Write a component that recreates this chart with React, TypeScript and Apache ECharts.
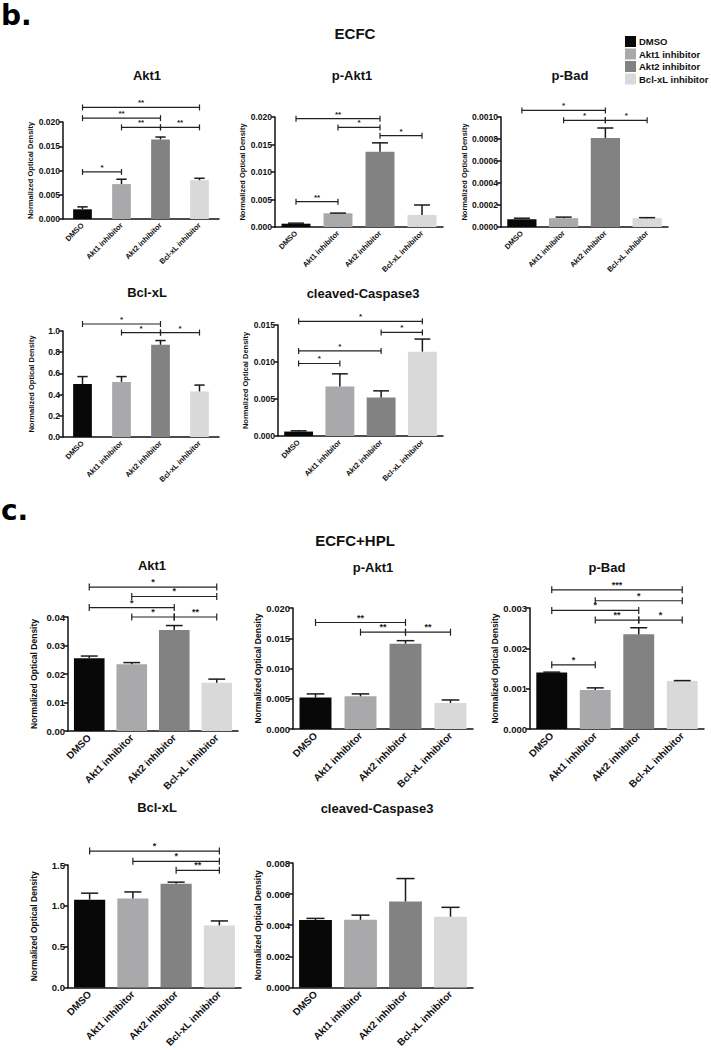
import React, { useEffect, useRef } from 'react';
import * as echarts from 'echarts';

const FONT = '"Liberation Sans", Arial, sans-serif';
const CATS = ['DMSO', 'Akt1 inhibitor', 'Akt2 inhibitor', 'Bcl-xL inhibitor'];
const COLORS = ['#080808', '#a9a9ab', '#828282', '#d9d9d9'];
const Y_NAME = 'Normalized Optical Density';

// ---- Section b: ECFC ----
const bAkt1Mean = [0.002, 0.0072, 0.0164, 0.008];
const bAkt1Err = [0.0005, 0.001, 0.0005, 0.0004];
const bAkt1Sig: [number, number, number, string][] = [[0, 3, 0.023, '**'], [0, 2, 0.0208, '**'], [1, 2, 0.0189, '**'], [2, 3, 0.0189, '**'], [0, 1, 0.0097, '*']];

const bPAkt1Mean = [0.0006, 0.0025, 0.0137, 0.0022];
const bPAkt1Err = [0.0001, 0.00003, 0.0016, 0.0018];
const bPAkt1Sig: [number, number, number, string][] = [[0, 2, 0.0197, '**'], [1, 2, 0.0181, '*'], [2, 3, 0.0166, '*'], [0, 1, 0.0046, '**']];

const bPBadMean = [0.00007, 0.00008, 0.00081, 0.00008];
const bPBadErr = [0.00001, 0.00001, 0.00009, 0.000005];
const bPBadSig: [number, number, number, string][] = [[0, 2, 0.00106, '*'], [1, 2, 0.00097, '*'], [2, 3, 0.00097, '*']];

const bBclMean = [0.5, 0.52, 0.87, 0.43];
const bBclErr = [0.07, 0.05, 0.04, 0.06];
const bBclSig: [number, number, number, string][] = [[0, 2, 1.066, '*'], [1, 2, 0.985, '*'], [2, 3, 0.985, '*']];

const bCasMean = [0.0006, 0.0067, 0.0052, 0.0114];
const bCasErr = [0.0001, 0.0017, 0.0009, 0.0017];
const bCasSig: [number, number, number, string][] = [[0, 3, 0.0155, '*'], [2, 3, 0.014, '*'], [0, 2, 0.0115, '*'], [0, 1, 0.0098, '*']];

// ---- Section c: ECFC+HPL ----
const cAkt1Mean = [0.0255, 0.0234, 0.0354, 0.0169];
const cAkt1Err = [0.0008, 0.0006, 0.0016, 0.0013];
const cAkt1Sig: [number, number, number, string][] = [[0, 3, 0.0505, '*'], [1, 3, 0.0472, '*'], [0, 2, 0.0433, '*'], [1, 2, 0.04, '*'], [2, 3, 0.04, '**']];

const cPAkt1Mean = [0.0052, 0.0054, 0.0141, 0.0043];
const cPAkt1Err = [0.0006, 0.0004, 0.0005, 0.0005];
const cPAkt1Sig: [number, number, number, string][] = [[0, 2, 0.0176, '**'], [1, 2, 0.016, '**'], [2, 3, 0.016, '**']];

const cPBadMean = [0.0014, 0.00097, 0.00235, 0.00119];
const cPBadErr = [0.00001, 0.00005, 0.00016, 0.00001];
const cPBadSig: [number, number, number, string][] = [[0, 3, 0.00345, '***'], [1, 3, 0.00318, '*'], [0, 2, 0.00294, '*'], [1, 2, 0.0027, '**'], [2, 3, 0.0027, '*'], [0, 1, 0.00159, '*']];

const cBclMean = [1.075, 1.09, 1.27, 0.76];
const cBclErr = [0.08, 0.08, 0.02, 0.055];
const cBclSig: [number, number, number, string][] = [[0, 3, 1.67, '*'], [1, 3, 1.545, '*'], [2, 3, 1.435, '**']];

const cCasMean = [0.00433, 0.00435, 0.00553, 0.00455];
const cCasErr = [0.00011, 0.0003, 0.00147, 0.0006];
const cCasSig: [number, number, number, string][] = [];

type Panel = {
  title: string; tx: number; ty: number;
  left: number; top: number; width: number; height: number;
  max: number; interval: number; dec: number;
  mean: number[]; err: number[]; sig: [number, number, number, string][];
  barW: string; big: boolean;
};

const panels: Panel[] = [
  { title: 'Akt1', tx: 147, ty: 75, left: 63, top: 122, width: 156, height: 97, max: 0.02, interval: 0.005, dec: 3, mean: bAkt1Mean, err: bAkt1Err, sig: bAkt1Sig, barW: '48%', big: false },
  { title: 'p-Akt1', tx: 352, ty: 75, left: 275, top: 117, width: 168, height: 110, max: 0.02, interval: 0.005, dec: 3, mean: bPAkt1Mean, err: bPAkt1Err, sig: bPAkt1Sig, barW: '69%', big: false },
  { title: 'p-Bad', tx: 570, ty: 75, left: 501, top: 117, width: 167, height: 110, max: 0.001, interval: 0.0002, dec: 4, mean: bPBadMean, err: bPBadErr, sig: bPBadSig, barW: '70%', big: false },
  { title: 'Bcl-xL', tx: 147, ty: 292, left: 63, top: 331, width: 156, height: 106, max: 1.0, interval: 0.2, dec: 1, mean: bBclMean, err: bBclErr, sig: bBclSig, barW: '48%', big: false },
  { title: 'cleaved-Caspase3', tx: 363, ty: 293, left: 278, top: 325, width: 165, height: 111, max: 0.015, interval: 0.005, dec: 3, mean: bCasMean, err: bCasErr, sig: bCasSig, barW: '70%', big: false },
  { title: 'Akt1', tx: 152, ty: 565, left: 68, top: 617, width: 170, height: 114, max: 0.04, interval: 0.01, dec: 2, mean: cAkt1Mean, err: cAkt1Err, sig: cAkt1Sig, barW: '72%', big: true },
  { title: 'p-Akt1', tx: 373, ty: 567, left: 293, top: 608, width: 180, height: 121, max: 0.02, interval: 0.005, dec: 3, mean: cPAkt1Mean, err: cPAkt1Err, sig: cPAkt1Sig, barW: '71%', big: true },
  { title: 'p-Bad', tx: 607, ty: 567, left: 530, top: 608, width: 174, height: 121, max: 0.003, interval: 0.001, dec: 3, mean: cPBadMean, err: cPBadErr, sig: cPBadSig, barW: '71%', big: true },
  { title: 'Bcl-xL', tx: 157, ty: 807, left: 68, top: 865, width: 173, height: 124, max: 1.5, interval: 0.5, dec: 1, mean: cBclMean, err: cBclErr, sig: cBclSig, barW: '72%', big: true },
  { title: 'cleaved-Caspase3', tx: 377, ty: 808, left: 293, top: 863, width: 180, height: 125, max: 0.008, interval: 0.002, dec: 3, mean: cCasMean, err: cCasErr, sig: cCasSig, barW: '73%', big: true },
];

const INK = '#111';

export default function App() {
  const ref = useRef<HTMLDivElement>(null);
  useEffect(() => {
    const chart = echarts.init(ref.current!, null, { renderer: 'svg' });
    const grid: any[] = [];
    const xAxis: any[] = [];
    const yAxis: any[] = [];
    const series: any[] = [];
    const graphic: any[] = [];

    panels.forEach((p, k) => {
      grid.push({ left: p.left, top: p.top, width: p.width, height: p.height });
      xAxis.push({
        type: 'category', gridIndex: k, data: CATS,
        axisLine: { lineStyle: { color: INK, width: 1.5 } },
        axisTick: { alignWithLabel: true, length: 4, lineStyle: { color: INK, width: 1.5 } },
        axisLabel: { rotate: 45, interval: 0, fontSize: p.big ? 10 : 7.5, fontWeight: 'bold', color: INK, fontFamily: FONT, margin: 5 },
      });
      yAxis.push({
        type: 'value', gridIndex: k, min: 0, max: p.max, interval: p.interval,
        axisLine: { show: true, lineStyle: { color: INK, width: 1.5 } },
        axisTick: { show: true, length: 4, lineStyle: { color: INK, width: 1.5 } },
        splitLine: { show: false },
        axisLabel: { formatter: (v: number) => v.toFixed(p.dec), fontSize: p.big ? 9.5 : 8.5, fontWeight: 'bold', color: INK, fontFamily: FONT, margin: 3 },
        name: Y_NAME, nameLocation: 'middle', nameRotate: 90, nameGap: p.big ? 30 : 28,
        nameTextStyle: { fontSize: p.big ? 8.5 : 7.5, fontWeight: 'bold', color: INK, fontFamily: FONT },
      });
      series.push({
        type: 'bar', xAxisIndex: k, yAxisIndex: k, barWidth: p.barW,
        data: p.mean.map((v, i) => ({ value: v, itemStyle: { color: COLORS[i] } })),
      });
      series.push({
        type: 'custom', xAxisIndex: k, yAxisIndex: k, clip: false, z: 5,
        encode: { x: 0, y: [1, 2] },
        data: p.mean.map((v, i) => [i, v, v + p.err[i]]),
        renderItem: (params: any, api: any) => {
          const x = api.value(0);
          const a = api.coord([x, api.value(1)]);
          const b = api.coord([x, api.value(2)]);
          const bw = api.size([1, 0])[0] * parseFloat(p.barW) / 100;
          const cap = bw * 0.55;
          const st = { stroke: '#1a1a1a', lineWidth: 1.5 };
          return {
            type: 'group', children: [
              { type: 'line', shape: { x1: a[0], y1: a[1], x2: b[0], y2: b[1] }, style: st },
              { type: 'line', shape: { x1: b[0] - cap / 2, y1: b[1], x2: b[0] + cap / 2, y2: b[1] }, style: st },
            ],
          };
        },
      });
      if (p.sig.length) {
        series.push({
          type: 'custom', xAxisIndex: k, yAxisIndex: k, clip: false, z: 6,
          encode: { x: [0, 1], y: 2 },
          data: p.sig.map((s) => [s[0], s[1], s[2]]),
          renderItem: (params: any, api: any) => {
            const y = api.value(2);
            const a = api.coord([api.value(0), y]);
            const b = api.coord([api.value(1), y]);
            const st = { stroke: '#222', lineWidth: 1.2 };
            const t = p.big ? 3.5 : 3;
            return {
              type: 'group', children: [
                { type: 'line', shape: { x1: a[0], y1: a[1], x2: b[0], y2: b[1] }, style: st },
                { type: 'line', shape: { x1: a[0], y1: a[1] - t, x2: a[0], y2: a[1] + t }, style: st },
                { type: 'line', shape: { x1: b[0], y1: b[1] - t, x2: b[0], y2: b[1] + t }, style: st },
                {
                  type: 'text', x: (a[0] + b[0]) / 2, y: a[1] - 0.5,
                  style: { text: p.sig[params.dataIndex][3], fill: '#222', font: `bold ${p.big ? 9 : 8}px ${FONT}`, textAlign: 'center', textVerticalAlign: 'bottom' },
                },
              ],
            };
          },
        });
      }
      graphic.push({
        type: 'text', x: p.tx, y: p.ty,
        style: { text: p.title, fill: INK, font: `bold 13px ${FONT}`, textAlign: 'center', textVerticalAlign: 'middle' },
      });
    });

    graphic.push({ type: 'text', x: 1, y: 15, style: { text: 'b.', fill: '#000', font: `900 28px "DejaVu Sans", sans-serif`, textAlign: 'left', textVerticalAlign: 'middle' } });
    graphic.push({ type: 'text', x: 1, y: 510, style: { text: 'c.', fill: '#000', font: `900 28px "DejaVu Sans", sans-serif`, textAlign: 'left', textVerticalAlign: 'middle' } });
    graphic.push({ type: 'text', x: 355, y: 33, style: { text: 'ECFC', fill: INK, font: `bold 15px ${FONT}`, textAlign: 'center', textVerticalAlign: 'middle' } });
    graphic.push({ type: 'text', x: 355, y: 540, style: { text: 'ECFC+HPL', fill: INK, font: `bold 15px ${FONT}`, textAlign: 'center', textVerticalAlign: 'middle' } });

    CATS.forEach((c, i) => {
      const y = 36 + i * 12.5;
      graphic.push({ type: 'rect', shape: { x: 625, y, width: 11, height: 11 }, style: { fill: COLORS[i] } });
      graphic.push({ type: 'text', x: 639, y: y + 5.5, style: { text: c, fill: INK, font: `bold 9.5px ${FONT}`, textAlign: 'left', textVerticalAlign: 'middle' } });
    });

    chart.setOption({
      animation: false,
      backgroundColor: '#ffffff',
      grid, xAxis, yAxis, series, graphic,
    });
    return () => chart.dispose();
  }, []);

  return <div ref={ref} style={{ position: 'absolute', left: 0, top: 0, width: 711, height: 1050, background: '#fff' }} />;
}
